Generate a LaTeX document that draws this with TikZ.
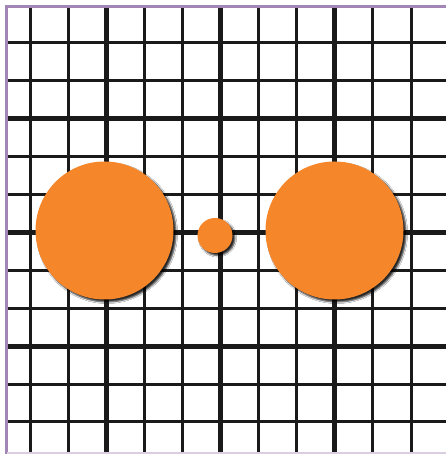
\documentclass[tikz,border=0pt]{standalone}
\usepackage{tikz}
\usetikzlibrary{shadows.blur}

\definecolor{gridline}{RGB}{26,26,26}
\definecolor{frameline}{RGB}{162,134,182}
\definecolor{disc}{RGB}{245,134,42}

\begin{document}
\begin{tikzpicture}[x=1pt,y=1pt,
  thinline/.style={gridline,line width=3pt},
  thickline/.style={gridline,line width=5pt},
  ball/.style={circle,fill=disc,inner sep=0pt,
    blur shadow={shadow xshift=2.5pt,shadow yshift=-2.5pt,
      shadow blur radius=1.6pt,shadow opacity=85}}]
  \useasboundingbox (0,0) rectangle (446,454);
  \fill[white] (0,0) rectangle (446,454);
  % grid
  \foreach \k in {0,...,10} {
    \pgfmathsetmacro{\gx}{30+38.1*\k}
    \pgfmathsetmacro{\gy}{411-37.9*\k}
    \draw[thinline] (\gx,0) -- (\gx,447);
    \draw[thinline] (7,\gy) -- (446,\gy);
  }
  \foreach \k in {2,5,8} {
    \pgfmathsetmacro{\gx}{30+38.1*\k}
    \pgfmathsetmacro{\gy}{411-37.9*\k}
    \draw[thickline] (\gx,0) -- (\gx,447);
    \draw[thickline] (7,\gy) -- (446,\gy);
  }
  % frame
  \draw[frameline,line width=2.5pt] (6.5,0) -- (6.5,447.5) -- (446,447.5);
  \draw[frameline!40,line width=1.5pt] (6.5,0.8) -- (446,0.8);
  % discs
  \node[ball,minimum size=138pt] (bigleft) at (104.5,223.5) {};
  \node[ball,minimum size=138pt] (bigright) at (334.5,223.5) {};
  \node[ball,minimum size=35pt] (dot) at (215,218.5) {};
\end{tikzpicture}
\end{document}
